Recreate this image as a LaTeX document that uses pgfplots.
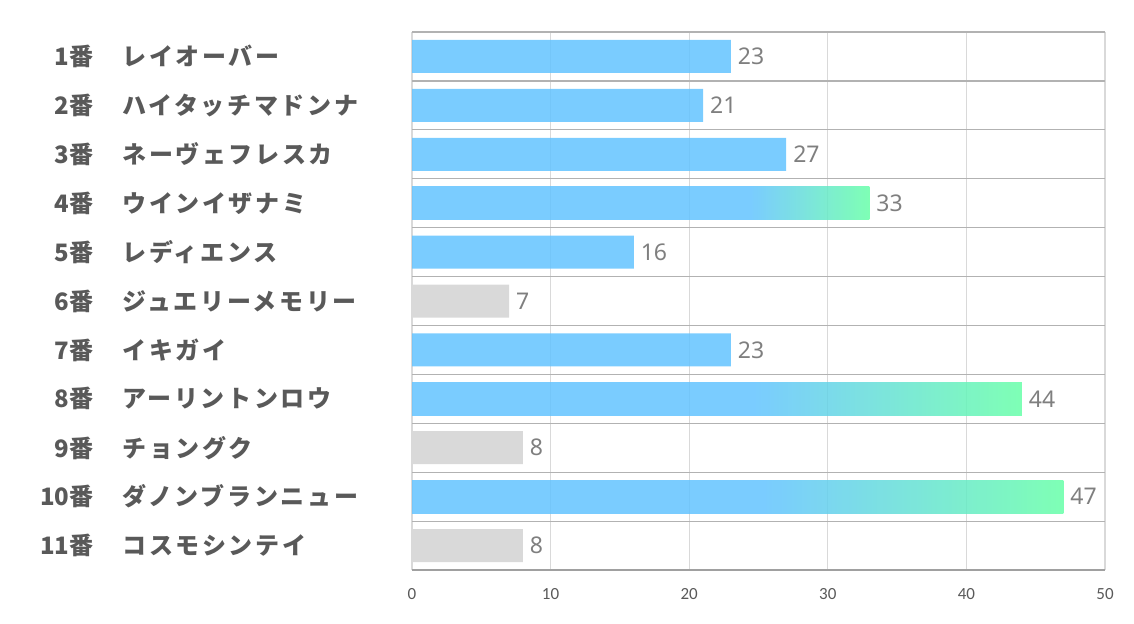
\documentclass[border=0pt]{standalone}
\usepackage{fontspec}
\setmainfont{Noto Sans CJK JP}
\newfontfamily\numfont{Noto Sans}
\newfontfamily\tickfont{Carlito}
\newfontfamily\namefont{Noto Sans CJK JP}[LetterSpace=11]
\usepackage{pgfplots}
\pgfplotsset{compat=1.18}

\definecolor{bblue}{RGB}{99,195,255}
\definecolor{bgreen}{RGB}{103,255,168}
\definecolor{bgray}{RGB}{217,217,217}
\definecolor{labgray}{RGB}{89,89,89}
\definecolor{datgray}{RGB}{127,127,127}
\definecolor{gridv}{RGB}{217,217,217}
\definecolor{gridh}{RGB}{178,178,178}
\definecolor{axgray}{RGB}{160,160,160}

% gradient starts near 24.5 on each bar (path is mapped to 25bp..75bp)
\pgfdeclarehorizontalshading{gradA}{100bp}{color(0bp)=(bblue); color(62bp)=(bblue); color(75bp)=(bgreen); color(100bp)=(bgreen)}
\pgfdeclarehorizontalshading{gradB}{100bp}{color(0bp)=(bblue); color(53bp)=(bblue); color(75bp)=(bgreen); color(100bp)=(bgreen)}
\pgfdeclarehorizontalshading{gradC}{100bp}{color(0bp)=(bblue); color(52bp)=(bblue); color(75bp)=(bgreen); color(100bp)=(bgreen)}

\newcommand\lab[2]{\makebox[46.5pt][r]{#1番}\hspace{14.5pt}{\namefont\bfseries #2}}

\begin{document}
\begin{tikzpicture}
\path[use as bounding box] (0,0) rectangle (567pt,311.5pt);
\begin{axis}[
    at={(206pt,26.5pt)}, anchor=south west,
    scale only axis, width=346.5pt, height=269pt,
    xbar, bar width=16.5pt,
    every axis plot/.append style={bar shift=0pt, draw=none},
    xmin=0, xmax=50, ymin=0.5, ymax=11.5, y dir=reverse,
    xtick={0,10,...,50}, ytick={1,...,11},
    minor ytick={0.5,1.5,...,11.5},
    xmajorgrids, yminorgrids,
    major grid style={draw=gridv, line width=0.6pt},
    minor grid style={draw=gridh, line width=0.6pt},
    axis x line*=bottom, axis y line*=left,
    x axis line style={draw=axgray, line width=0.7pt, -},
    y axis line style={draw=none},
    major tick length=0pt, minor tick length=0pt,
    /pgf/number format/assume math mode=true,
    xticklabel style={font=\tickfont\fontsize{8.5}{10}\selectfont, text=labgray, yshift=-5.5pt},
    yticklabels={{\lab{1}{レイオーバー}},{\lab{2}{ハイタッチマドンナ}},{\lab{3}{ネーヴェフレスカ}},
        {\lab{4}{ウインイザナミ}},{\lab{5}{レディエンス}},{\lab{6}{ジュエリーメモリー}},
        {\lab{7}{イキガイ}},{\lab{8}{アーリントンロウ}},{\lab{9}{チョングク}},
        {\lab{10}{ダノンブランニュー}},{\lab{11}{コスモシンテイ}}},
    yticklabel style={anchor=west, inner sep=0pt, xshift=-206pt,
        font=\bfseries\fontsize{12}{14}\selectfont, text=labgray},
    nodes near coords,
    nodes near coords style={font=\numfont\fontsize{11.5}{13}\selectfont, text=datgray, anchor=west},
]
% blue bars
\addplot[fill=bblue, fill opacity=0.85, text opacity=1] coordinates {
    (23,1) (21,2) (27,3) (16,5) (23,7)
};
% gray bars
\addplot[fill=bgray] coordinates {
    (7,6) (8,9) (8,11)
};
% gradient bars
\addplot[shading=gradA, fill opacity=0.85, text opacity=1] coordinates {(33,4)};
\addplot[shading=gradB, fill opacity=0.85, text opacity=1] coordinates {(44,8)};
\addplot[shading=gradC, fill opacity=0.85, text opacity=1] coordinates {(47,10)};
\end{axis}
\end{tikzpicture}
\end{document}
